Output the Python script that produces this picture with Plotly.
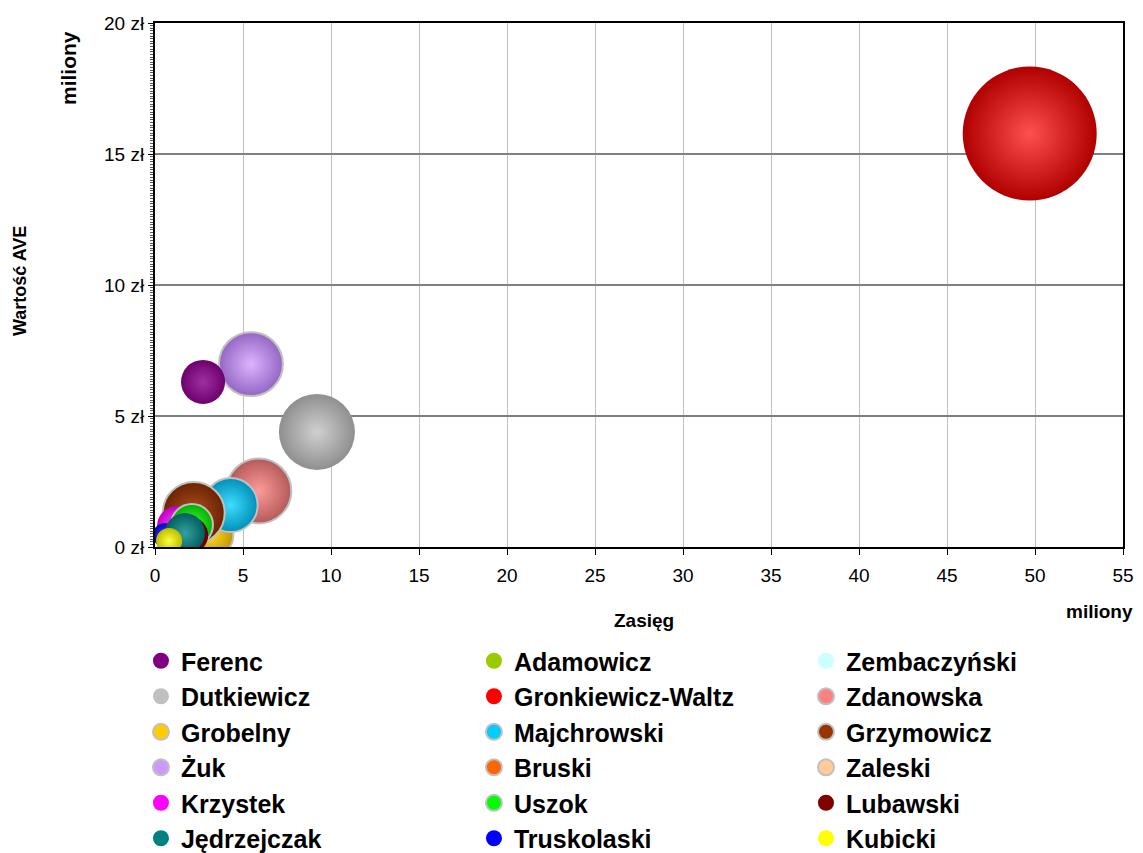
import plotly.graph_objects as go

# Series (drawing order, bottom -> top)
names = ["Adamowicz", "Zembaczyński", "Bruski", "Zaleski",
         "Dutkiewicz", "Żuk", "Ferenc", "Gronkiewicz-Waltz",
         "Grobelny", "Zdanowska", "Majchrowski", "Grzymowicz",
         "Krzystek", "Uszok", "Lubawski", "Truskolaski",
         "Jędrzejczak", "Kubicki"]
zasieg = [1.6, 1.4, 2.0, 1.8,
          9.2, 5.45, 2.73, 49.7,
          3.2, 5.9, 4.3, 2.2,
          1.25, 2.1, 2.0, 0.55,
          1.7, 0.8]                      # miliony
wartosc = [0.5, 0.45, 0.55, 0.4,
           4.39, 6.98, 6.3, 15.78,
           0.45, 2.14, 1.6, 1.3,
           0.8, 0.84, 0.45, 0.45,
           0.53, 0.23]                   # miliony zł
wielkosc = [30, 25, 35, 28,
            322, 228, 108, 1000,
            108, 235, 162, 214,
            89, 98, 72, 32,
            89, 38]

# legend columns as in reference
legend_cols = [["Ferenc", "Dutkiewicz", "Grobelny", "Żuk", "Krzystek", "Jędrzejczak"],
               ["Adamowicz", "Gronkiewicz-Waltz", "Majchrowski", "Bruski", "Uszok", "Truskolaski"],
               ["Zembaczyński", "Zdanowska", "Grzymowicz", "Zaleski", "Lubawski", "Kubicki"]]

# (edge/base colour, centre highlight colour)
colors = {
    "Ferenc": ("#6e006e", "#a030a0"),
    "Dutkiewicz": ("#8f8f8f", "#d0d0d0"),
    "Grobelny": ("#c09600", "#ffd633"),
    "Żuk": ("#9466c4", "#dcb4ff"),
    "Krzystek": ("#c000c0", "#ff50ff"),
    "Jędrzejczak": ("#005e5e", "#35a0a0"),
    "Adamowicz": ("#789e00", "#b4dc20"),
    "Gronkiewicz-Waltz": ("#b00000", "#ff5050"),
    "Majchrowski": ("#0090b8", "#40dcff"),
    "Bruski": ("#c04c00", "#ff8a3a"),
    "Uszok": ("#00b000", "#40ff40"),
    "Truskolaski": ("#0000b8", "#4040ff"),
    "Zembaczyński": ("#a0c8c8", "#e8ffff"),
    "Zdanowska": ("#b45a5a", "#ff9a9a"),
    "Grzymowicz": ("#6a2400", "#b04e20"),
    "Zaleski": ("#c09a70", "#ffdcb8"),
    "Lubawski": ("#600000", "#a01010"),
    "Kubicki": ("#bcbc00", "#ffff40"),
}
legend_colors = {
    "Ferenc": "#800080", "Dutkiewicz": "#c0c0c0", "Grobelny": "#ffcc00", "Żuk": "#cc99ff",
    "Krzystek": "#ff00ff", "Jędrzejczak": "#008080", "Adamowicz": "#99cc00",
    "Gronkiewicz-Waltz": "#ff0000", "Majchrowski": "#00ccff", "Bruski": "#ff6600",
    "Uszok": "#00ff00", "Truskolaski": "#0000ff", "Zembaczyński": "#ccffff",
    "Zdanowska": "#ff8080", "Grzymowicz": "#993300", "Zaleski": "#ffcc99",
    "Lubawski": "#800000", "Kubicki": "#ffff00",
}
no_outline = {"Ferenc", "Gronkiewicz-Waltz", "Dutkiewicz", "Krzystek", "Adamowicz",
              "Truskolaski", "Zembaczyński", "Lubawski", "Kubicki", "Jędrzejczak"}

legend_of = {}
rank = {}
for ci, col in enumerate(legend_cols):
    for ri, n in enumerate(col):
        legend_of[n] = "legend" if ci == 0 else "legend%d" % (ci + 1)
        rank[n] = 1000 + ri

max_d = 134.0
sizeref = 2.0 * max(wielkosc) / (max_d ** 2)

fig = go.Figure()
for n, x, y, s in zip(names, zasieg, wartosc, wielkosc):
    edge, centre = colors[n]
    fig.add_trace(go.Scatter(
        x=[x], y=[y], mode="markers", name=n, legendrank=rank[n], legend=legend_of[n],
        showlegend=False,
        marker=dict(size=[s], sizemode="area", sizeref=sizeref, color=edge, opacity=1,
                    gradient=dict(type="radial", color=centre),
                    line=dict(color="#c0c0c0", width=0 if n in no_outline else 2)),
        hovertemplate=n + "<br>Zasięg: %{x} mln<br>AVE: %{y} mln zł<extra></extra>",
    ))
    # legend entry (flat colour dot, like the reference legend)
    fig.add_trace(go.Scatter(
        x=[None], y=[None], mode="markers", name=n, legendrank=rank[n], legend=legend_of[n],
        marker=dict(size=16, color=legend_colors[n], opacity=1,
                    line=dict(color="#c0c0c0", width=0 if n in no_outline else 2)),
        hoverinfo="skip",
    ))

legfont = dict(size=25, family="Liberation Sans, Arial, sans-serif", color="black", weight="bold")
leg_common = dict(orientation="v", y=-0.1737, xanchor="left", yanchor="top",
                  itemsizing="trace", font=legfont, bgcolor="rgba(0,0,0,0)",
                  tracegroupgap=0, itemwidth=30)

# the page body has an 8px margin, so the figure is 8px smaller and starts at (8, 8)
fig.update_layout(
    width=1135, height=845,
    margin=dict(l=147, r=20, t=15, b=306, autoexpand=False),
    paper_bgcolor="white", plot_bgcolor="white",
    font=dict(family="Liberation Sans, Arial, sans-serif", color="black"),
    showlegend=True,
    legend=dict(x=-0.0145, **leg_common),
    legend2=dict(x=0.3295, **leg_common),
    legend3=dict(x=0.6725, **leg_common),
    xaxis=dict(range=[0, 55], dtick=5, tick0=0, showgrid=True, gridcolor="#c0c0c0", gridwidth=1,
               showline=True, linecolor="black", linewidth=2, mirror=True,
               ticks="outside", ticklen=6, tickcolor="black", ticklabelstandoff=4,
               tickfont=dict(size=19), zeroline=False),
    yaxis=dict(range=[0, 20], dtick=5, tick0=0, showgrid=True, gridcolor="#808080", gridwidth=1.5,
               showline=True, linecolor="black", linewidth=2, mirror=True,
               ticks="outside", ticklen=5, tickcolor="black",
               ticksuffix=" zł", tickfont=dict(size=19), zeroline=False,
               minor=dict(dtick=0.1, ticks="outside", ticklen=3, tickcolor="#555555",
                          showgrid=False)),
)

fig.add_annotation(text="<b>Zasięg</b>", xref="paper", yref="paper", x=0.505, y=-0.141,
                   showarrow=False, font=dict(size=19), xanchor="center", yanchor="middle")
fig.add_annotation(text="<b>Wartość AVE</b>", xref="paper", yref="paper", x=-0.1395, y=0.5076,
                   showarrow=False, font=dict(size=18), textangle=-90, xanchor="center", yanchor="middle")
fig.add_annotation(text="<b>miliony</b>", xref="paper", yref="paper", x=-0.0899, y=0.914,
                   showarrow=False, font=dict(size=21), textangle=-90, xanchor="center", yanchor="middle")
fig.add_annotation(text="<b>miliony</b>", xref="paper", yref="paper", x=0.976, y=-0.124,
                   showarrow=False, font=dict(size=19), xanchor="center", yanchor="middle")

fig.write_html("out.html")
